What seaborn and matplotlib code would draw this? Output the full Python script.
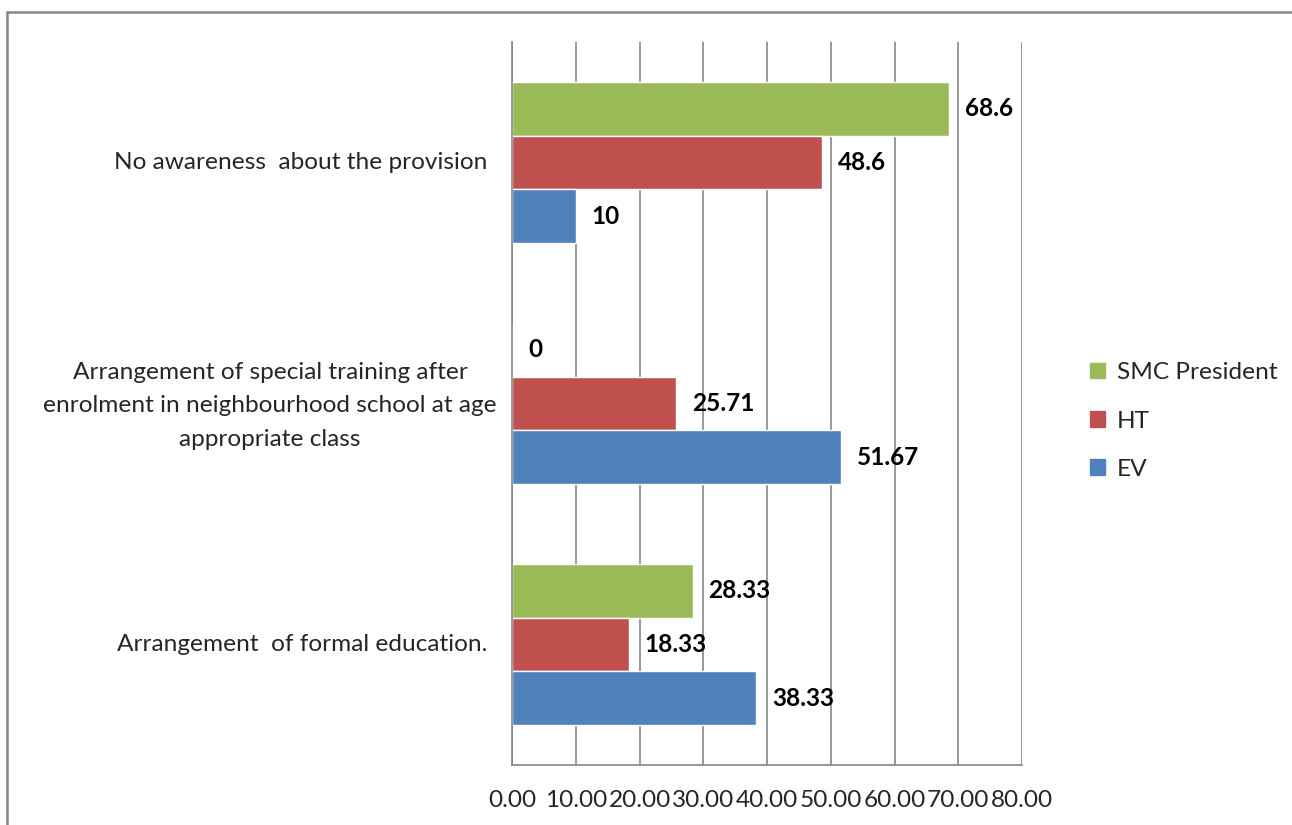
import matplotlib
matplotlib.use("Agg")
import matplotlib.pyplot as plt
import matplotlib.patches as mpatches
from matplotlib.transforms import blended_transform_factory
import seaborn as sns
import pandas as pd

categories = [
    "No awareness  about the provision",
    "Arrangement of special training after\nenrolment in neighbourhood school at age\nappropriate class",
    "Arrangement  of formal education.",
]
series = ["SMC President", "HT", "EV"]
smc_values = [68.6, 0, 28.33]
ht_values = [48.6, 25.71, 18.33]
ev_values = [10, 51.67, 38.33]
xticks = [0, 10, 20, 30, 40, 50, 60, 70, 80]
colors = {"SMC President": "#9BBB59", "HT": "#C0504D", "EV": "#4F81BD"}

rows = []
for name, vals in zip(series, [smc_values, ht_values, ev_values]):
    for c, v in zip(categories, vals):
        rows.append({"category": c, "series": name, "value": v})
df = pd.DataFrame(rows)

sns.set_style("white")
plt.rcParams["font.family"] = ["Lato", "DejaVu Sans"]
FS = 17.6
grey = "#868686"

fig = plt.figure(figsize=(12.92, 8.25), dpi=100)
ax = fig.add_axes([512 / 1292, 1 - 765 / 825, 510 / 1292, (765 - 42) / 825])

sns.barplot(data=df, y="category", x="value", hue="series", order=categories,
            hue_order=series, palette=colors, orient="h", width=0.67,
            saturation=1, ax=ax, legend=False, errorbar=None)

ax.set_xlim(0, 80)
ax.set_ylim(2.5, -0.5)
ax.set_xticks(xticks)
ax.set_xticklabels([f"{t:.2f}" for t in xticks], fontsize=FS)
ax.tick_params(axis="x", direction="out", length=5, width=1.2, color=grey, pad=13)
ax.set_yticks([0, 1, 2])
ax.set_yticklabels([])
ax.tick_params(axis="y", which="major", length=0)
ax.set_yticks([-0.5, 0.5, 1.5, 2.5], minor=True)
ax.tick_params(axis="y", which="minor", direction="out", length=5, width=1.2, color=grey)
ax.set_xlabel("")
ax.set_ylabel("")
ax.grid(axis="x", color=grey, lw=1.2)
ax.set_axisbelow(True)
for s in ["top", "right"]:
    ax.spines[s].set_visible(False)
for s in ["left", "bottom"]:
    ax.spines[s].set_color(grey)
    ax.spines[s].set_linewidth(1.2)

# data labels
for cont, vals in zip(ax.containers, [smc_values, ht_values, ev_values]):
    ax.bar_label(cont, labels=[f"{v:g}" for v in vals], padding=11.5,
                 fontsize=FS, fontweight="bold", color="black")

# category labels
tr = blended_transform_factory(ax.transAxes, ax.transData)
ax.text(-25 / 510, 0, categories[0], transform=tr, ha="right", va="center", fontsize=FS)
ax.text(-242 / 510, 1.01, categories[1], transform=tr, ha="center", va="center",
        fontsize=FS, multialignment="center", linespacing=1.72)
ax.text(-25 / 510, 2, categories[2], transform=tr, ha="right", va="center", fontsize=FS)

handles = [mpatches.Patch(color=colors[s], label=s) for s in series]
fig.legend(handles=handles, loc="center left", bbox_to_anchor=(1090 / 1292, 1 - 421 / 825),
           frameon=False, fontsize=FS, handlelength=0.6, handleheight=0.6,
           handletextpad=0.5, labelspacing=1.12, borderpad=0, borderaxespad=0)

# chart frame
frame = mpatches.Rectangle((7 / 1292, -0.1), 1.2, 1 - 12 / 825 + 0.1, transform=fig.transFigure,
                           fill=False, edgecolor="#878787", lw=1.8)
fig.patches.append(frame)

fig.savefig("out.png", dpi=100)
